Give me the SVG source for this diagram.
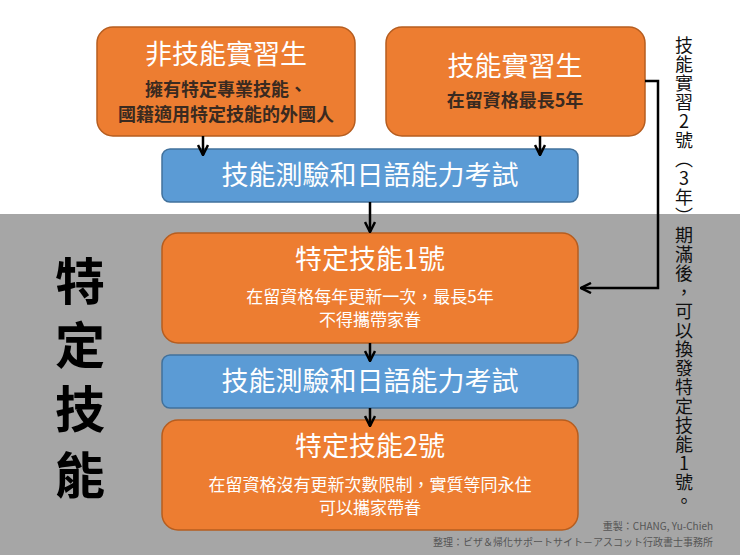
<svg xmlns="http://www.w3.org/2000/svg" width="740" height="555" viewBox="0 0 740 555">
<style>
.o{fill:#ed7d31;stroke:#b65d1f;stroke-width:1.5}
.b{fill:#5b9bd5;stroke:#41719c;stroke-width:1.5}
text{font-family:"Noto Sans CJK TC","Noto Sans",sans-serif;text-anchor:middle}
.t{fill:#fff;font-size:27px}
.s{fill:#fff;font-size:17px}
.d{fill:#3a2a20;font-size:18px;font-weight:bold}
.c{stroke:#000;stroke-width:2.5;fill:none}
</style>
<defs><marker id="a" viewBox="0 0 10 10" refX="9" refY="5" markerWidth="5" markerHeight="5" orient="auto"><path d="M1,1 L9,5 L1,9" fill="none" stroke="#000" stroke-width="2"/></marker></defs>
<rect x="0" y="214" width="740" height="341" fill="#a6a6a6"/>
<g id="nA"><rect class="o" x="97" y="27" width="258" height="109" rx="16"/>
<text class="t" x="226" y="64">非技能實習生</text>
<text class="d" x="226" y="96">擁有特定專業技能、</text>
<text class="d" x="226" y="121">國籍適用特定技能的外國人</text></g>
<g id="nB"><rect class="o" x="386" y="27" width="259" height="109" rx="16"/>
<text class="t" x="515" y="76">技能實習生</text>
<text class="d" x="515" y="107">在留資格最長5年</text></g>
<g id="nT1"><rect class="b" x="162" y="149" width="416" height="53" rx="8"/>
<text class="t" x="370" y="185">技能測驗和日語能力考試</text></g>
<g id="nC"><rect class="o" x="162" y="233" width="416" height="110" rx="16"/>
<text class="t" x="370" y="269">特定技能1號</text>
<text class="s" x="370" y="303">在留資格每年更新一次，最長5年</text>
<text class="s" x="370" y="326">不得攜帶家眷</text></g>
<g id="nT2"><rect class="b" x="162" y="355" width="416" height="53" rx="8"/>
<text class="t" x="370" y="391">技能測驗和日語能力考試</text></g>
<g id="nD"><rect class="o" x="162" y="420" width="416" height="110" rx="16"/>
<text class="t" x="370" y="456">特定技能2號</text>
<text class="s" x="370" y="491">在留資格沒有更新次數限制，實質等同永住</text>
<text class="s" x="370" y="514">可以攜家帶眷</text></g>
<g id="connectors">
<path class="c" d="M203,136 V155" marker-end="url(#a)"/>
<path class="c" d="M540,136 V155" marker-end="url(#a)"/>
<path class="c" d="M370,202 V232" marker-end="url(#a)"/>
<path class="c" d="M370,343 V361" marker-end="url(#a)"/>
<path class="c" d="M370,408 V426" marker-end="url(#a)"/>
<path class="c" d="M645,81 H658 V288 H581" marker-end="url(#a)"/>
</g>
<text x="684" y="36" style="font-size:18px;fill:#111;writing-mode:vertical-rl;text-orientation:upright;text-anchor:start;letter-spacing:1px">技能實習2號（3年）期滿後，可以換發特定技能1號。</text>
<g style="font-size:50px;font-weight:bold;fill:#000">
<text x="80" y="300">特</text><text x="80" y="364">定</text><text x="80" y="428">技</text><text x="80" y="494">能</text></g>
<text x="713" y="530" style="font-size:10px;fill:#555;text-anchor:end">重製：CHANG, Yu-Chieh</text>
<text x="713" y="546" style="font-size:10px;fill:#555;text-anchor:end">整理：ビザ＆帰化サポートサイト－アスコット行政書士事務所</text>
</svg>
